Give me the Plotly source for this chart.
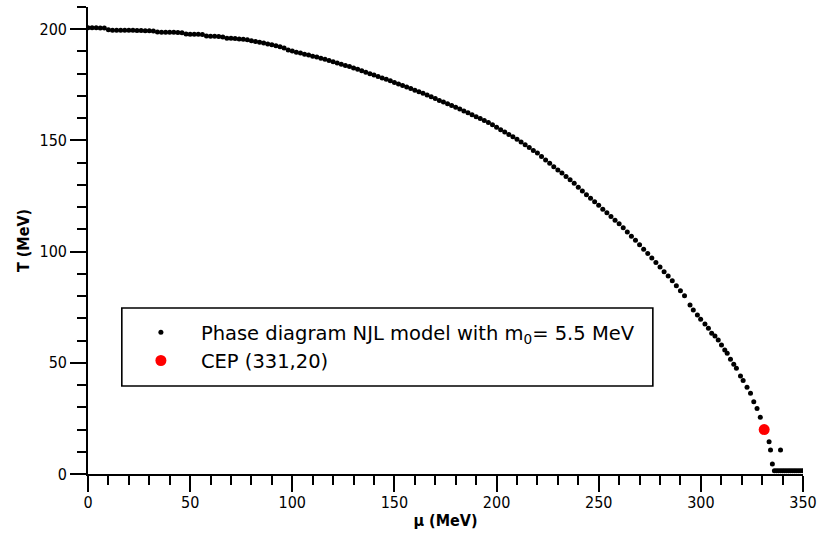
import plotly.graph_objects as go

# Phase boundary: chemical potential mu (MeV) and temperature T (MeV)
mu_vals = [
    0, 2, 4, 6, 8, 10, 12, 14, 16, 18, 20, 22, 24, 26, 28, 30, 32, 34, 36, 38,
    40, 42, 44, 46, 48, 50, 52, 54, 56, 58, 60, 62, 64, 66, 68, 70, 72, 74, 76, 78,
    80, 82, 84, 86, 88, 90, 92, 94, 96, 98, 100, 102, 104, 106, 108, 110, 112, 114, 116, 118,
    120, 122, 124, 126, 128, 130, 132, 134, 136, 138, 140, 142, 144, 146, 148, 150, 152, 154, 156, 158,
    160, 162, 164, 166, 168, 170, 172, 174, 176, 178, 180, 182, 184, 186, 188, 190, 192, 194, 196, 198,
    200, 202, 204, 206, 208, 210, 212, 214, 216, 218, 220, 222, 224, 226, 228, 230, 232, 234, 236, 238,
    240, 242, 244, 246, 248, 250, 252, 254, 256, 258, 260, 262, 264, 266, 268, 270, 272, 274, 276, 278,
    280, 282, 284, 286, 288, 290, 292,
    294.7, 296.3, 298.3, 299.9, 302.0, 303.7, 305.3, 306.9, 308.5, 310.1, 311.7, 312.9, 314.5, 316.1,
    317.4, 319.4, 320.7, 322.6, 324.3, 325.9, 327.5, 329.1, 331.0,
    333.4, 334.1, 339.0, 335.0,
    336, 337, 338, 339, 340, 341, 342, 343, 344, 345, 346, 347, 348, 349, 350,
]
T_vals = [
    200.7, 200.7, 200.7, 200.6, 200.6, 199.8, 199.6, 199.6, 199.5, 199.5, 199.5, 199.5, 199.4, 199.4, 199.3, 199.3, 199.2, 198.8, 198.7, 198.7,
    198.6, 198.6, 198.5, 198.4, 197.9, 197.8, 197.8, 197.7, 197.6, 197.0, 196.9, 196.8, 196.7, 196.5, 196.0, 195.9, 195.8, 195.6, 195.5, 195.3,
    194.8, 194.5, 194.2, 193.8, 193.4, 193.0, 192.6, 192.1, 191.6, 190.7, 190.2, 189.7, 189.3, 188.8, 188.4, 187.9, 187.5, 187.0, 186.5, 185.9,
    185.4, 184.8, 184.3, 183.7, 183.2, 182.6, 182.0, 181.3, 180.7, 180.0, 179.4, 178.7, 178.1, 177.5, 176.8, 176.1, 175.4, 174.7, 174.0, 173.3,
    172.6, 171.9, 171.2, 170.4, 169.6, 168.8, 168.0, 167.3, 166.5, 165.7, 164.9, 164.1, 163.2, 162.4, 161.5, 160.7, 159.9, 159.0, 158.1, 157.0,
    155.9, 154.8, 153.8, 152.7, 151.6, 150.5, 149.3, 148.1, 146.8, 145.5, 144.3, 142.8, 141.2, 139.7, 138.2, 136.7, 135.3, 133.8, 132.3, 130.7,
    129.0, 127.3, 125.6, 124.0, 122.4, 120.8, 119.1, 117.5, 115.8, 114.1, 112.5, 110.7, 108.8, 106.9, 105.1, 103.1, 101.1, 99.1, 97.1, 95.1,
    93.1, 91.0, 89.0, 86.9, 84.7, 82.4, 80.2,
    76.0, 73.7, 71.5, 69.6, 67.4, 65.5, 63.3, 62.1, 60.3, 58.0, 55.8, 54.3, 51.6, 49.3,
    47.5, 44.1, 42.0, 39.0, 36.3, 32.5, 29.4, 25.5, 20.0,
    14.5, 10.8, 10.8, 4.5,
    1.5, 1.5, 1.5, 1.5, 1.5, 1.5, 1.5, 1.5, 1.5, 1.5, 1.5, 1.5, 1.5, 1.5, 1.5,
]

cep_mu = [331]
cep_T = [20]

x_range = [0, 350]
y_range = [0, 210]

FONT = "DejaVu Sans Condensed, DejaVu Sans, sans-serif"
LEGEND_FONT = "DejaVu Sans, sans-serif"

fig = go.Figure()
fig.add_trace(go.Scatter(
    x=mu_vals, y=T_vals, mode="markers",
    marker=dict(color="black", size=5, line=dict(width=0)),
    name="Phase diagram NJL model with m<sub>0</sub>= 5.5 MeV",
))
fig.add_trace(go.Scatter(
    x=cep_mu, y=cep_T, mode="markers",
    marker=dict(color="#ff0000", size=11, line=dict(width=0)),
    name="CEP (331,20)",
))

axis_common = dict(
    showgrid=False, zeroline=False, showline=True, linecolor="black", linewidth=1.7,
    ticks="outside", tickcolor="black", tickwidth=1.7, ticklen=16,
    tickfont=dict(family=FONT, size=16, color="black"),
    mirror=False,
)

fig.update_layout(
    width=824, height=542,
    margin=dict(l=88, r=17, t=7, b=68),
    paper_bgcolor="white", plot_bgcolor="white",
    font=dict(family=FONT, size=16, color="black"),
    showlegend=True,
    legend=dict(
        x=0.046, y=0.3448, xanchor="left", yanchor="top",
        bgcolor="rgba(0,0,0,0)", borderwidth=0,
        font=dict(family=LEGEND_FONT, size=19.5, color="black"),
        itemwidth=70,
    ),
    shapes=[dict(
        type="rect", xref="paper", yref="paper",
        x0=0.0473, x1=0.790, y0=0.1884, y1=0.3555,
        line=dict(color="black", width=1.6), fillcolor="white", layer="above",
    )],
    xaxis=dict(
        range=x_range, dtick=50, tick0=0,
        title=dict(text="<b>μ (MeV)</b>", font=dict(family=FONT, size=16), standoff=4),
        minor=dict(dtick=10, ticks="outside", ticklen=9, tickcolor="black", tickwidth=1.7),
        ticklabelstandoff=-3,
        **axis_common,
    ),
    yaxis=dict(
        range=y_range, dtick=50, tick0=0,
        title=dict(text="<b>T (MeV)</b>", font=dict(family=FONT, size=16), standoff=6),
        minor=dict(dtick=10, ticks="outside", ticklen=9, tickcolor="black", tickwidth=1.7),
        **axis_common,
    ),
)

fig.write_html("out.html")
